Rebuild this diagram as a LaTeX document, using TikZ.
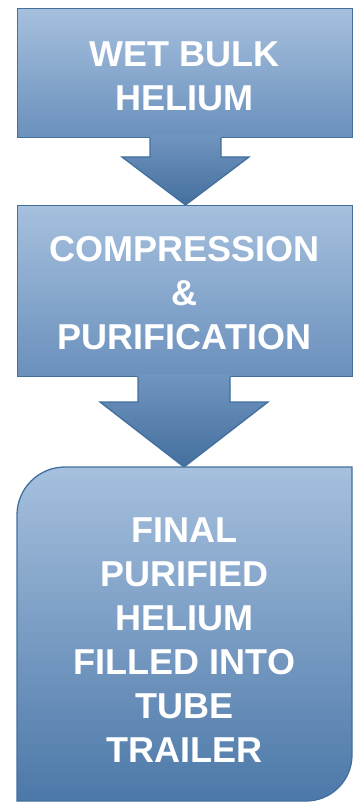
\documentclass[tikz,border=0pt]{standalone}
\usepackage{fontspec}
\setmainfont{Liberation Sans}
\begin{document}
\begin{tikzpicture}[x=1pt,y=-1pt,
  boxfill/.style={top color=boxtop,bottom color=boxbot},
  tallfill/.style={top color=boxtop,bottom color=tallbot},
  edge/.style={draw=edgec,line width=1.3pt,line join=miter},
  lbl/.style={text=white,align=center,font=\fontsize{36}{44}\selectfont\bfseries,inner sep=0pt},
  arrowfill/.style={top color=arrtop,bottom color=arrbot}]
\definecolor{boxtop}{RGB}{166,192,222}
\definecolor{boxbot}{RGB}{106,144,188}
\definecolor{tallbot}{RGB}{76,120,168}
\definecolor{arrtop}{RGB}{112,149,191}
\definecolor{arrbot}{RGB}{68,111,158}
\definecolor{edgec}{RGB}{66,112,158}
\useasboundingbox (0,0) rectangle (353,802);
% box 1
\node[boxfill,edge,minimum width=335pt,minimum height=129pt,anchor=north west,inner sep=0pt] (b1) at (17,8) {};
\node[lbl] (t1) at (184.5,76) {WET BULK\\HELIUM};
% arrow 1
\path[arrowfill] (150,135) -- (221,135) -- (221,157) -- (249,157) -- (185.5,205) -- (122,157) -- (150,157) -- cycle;
\draw[edge] (221,137.6) -- (221,157) -- (249,157) -- (185.5,205) -- (122,157) -- (150,157) -- (150,137.6);
% box 2
\node[boxfill,edge,minimum width=335pt,minimum height=171pt,anchor=north west,inner sep=0pt] (b2) at (17,205) {};
\node[lbl] (t2) at (184.5,293) {COMPRESSION\\\&\\PURIFICATION};
% arrow 2
\path[arrowfill] (138,374) -- (230,374) -- (230,402) -- (268,402) -- (184,467) -- (100,402) -- (138,402) -- cycle;
\draw[edge] (230,376.6) -- (230,402) -- (268,402) -- (184,467) -- (100,402) -- (138,402) -- (138,376.6);
% box 3
\path[tallfill,edge] (17,801) -- (17,515) arc[start angle=180,end angle=270,x radius=48pt,y radius=-48pt] -- (352,467) -- (352,755) arc[start angle=0,end angle=90,x radius=46pt,y radius=-46pt] -- cycle;
\node[lbl] (t3) at (184.5,640) {FINAL\\PURIFIED\\HELIUM\\FILLED INTO\\TUBE\\TRAILER};
\end{tikzpicture}
\end{document}
